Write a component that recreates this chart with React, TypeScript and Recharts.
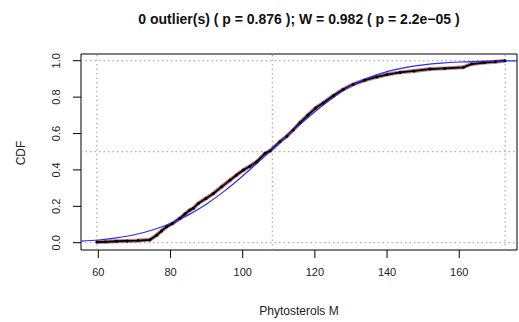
import { LineChart, Line, XAxis, YAxis, ReferenceLine, ReferenceArea } from "recharts"

const ecdfX = [59.6, 62, 65, 68, 71, 74.3, 76.2, 77.5, 78.9, 80.5, 82.6, 84, 85.4, 86.3, 87.7, 89.8, 91.9, 94.2, 96.5, 98.3, 100.2, 102, 103.9, 106.2, 107.6, 110.3, 112.2, 114, 115.9, 118, 120.2, 122.3, 125.1, 127.8, 130.6, 133.8, 137.1, 140, 143.6, 147.5, 151.9, 156, 161.1, 163.4, 167, 170, 172.7]
const ecdfY = [0.004, 0.005, 0.008, 0.01, 0.012, 0.016, 0.042, 0.065, 0.088, 0.105, 0.134, 0.158, 0.18, 0.189, 0.216, 0.243, 0.271, 0.308, 0.344, 0.372, 0.4, 0.42, 0.445, 0.491, 0.505, 0.555, 0.585, 0.62, 0.66, 0.7, 0.74, 0.768, 0.808, 0.842, 0.87, 0.893, 0.911, 0.924, 0.936, 0.944, 0.954, 0.958, 0.964, 0.982, 0.99, 0.995, 1.0]

// fitted normal curve (blue), read at these x values
const fitX = [55, 60, 65, 70, 75, 80, 85, 90, 95, 100, 105, 110, 115, 120, 125, 130, 135, 140, 145, 150, 155, 160, 165, 170, 176]
const fitY = [0.009, 0.015, 0.027, 0.044, 0.07, 0.106, 0.153, 0.213, 0.285, 0.367, 0.455, 0.545, 0.635, 0.72, 0.797, 0.862, 0.907, 0.94, 0.962, 0.977, 0.987, 0.993, 0.996, 0.998, 0.999]

const xTicks = [60, 80, 100, 120, 140, 160]
const yTicks = [0, 0.2, 0.4, 0.6, 0.8, 1]
const hLines = [0, 0.5, 1]
const vLines = [59.6, 108.2, 172.7]

const ecdf = ecdfX.map((x, i) => ({ x, y: ecdfY[i] }))
const fit = fitX.map((x, i) => ({ x, y: fitY[i] }))

const font = "'Liberation Sans', Arial, sans-serif"

const YTick = (props: any) => {
  const { x, y, payload } = props
  const tx = x - 11
  return (
    <text
      x={tx}
      y={y}
      transform={`rotate(-90, ${tx}, ${y})`}
      textAnchor="middle"
      fontSize={11}
      fill="#222"
      fontFamily={font}
    >
      {payload.value.toFixed(1)}
    </text>
  )
}

export default function App() {
  return (
    <div style={{ position: "relative", width: 519, height: 322, fontFamily: font, background: "#fff" }}>
      <style>{`body{margin:0}`}</style>
      <div style={{ position: "absolute", top: 11, left: 0, width: 598, textAlign: "center", fontWeight: "bold", fontSize: 14, color: "#111" }}>
        0 outlier(s) ( p = 0.876 ); W = 0.982 ( p = 2.2e−05 )
      </div>
      <div style={{ position: "absolute", top: 304, left: 0, width: 598, textAlign: "center", fontSize: 12, color: "#222" }}>
        Phytosterols M
      </div>
      <div style={{ position: "absolute", top: 153, left: 21, transform: "translate(-50%, -50%) rotate(-90deg)", fontSize: 12, color: "#222" }}>
        CDF
      </div>
      <LineChart width={519} height={322} margin={{ top: 54, right: 2, bottom: 32, left: 40 }}>
        <XAxis
          type="number"
          dataKey="x"
          domain={[55.2, 176]}
          ticks={xTicks}
          allowDataOverflow
          height={40}
          axisLine={false}
          tickSize={8}
          tickLine={{ stroke: "#000" }}
          tick={{ fontSize: 11, fill: "#222", fontFamily: font, dy: 8 }}
        />
        <YAxis
          type="number"
          dataKey="y"
          domain={[-0.04, 1.037]}
          ticks={yTicks}
          allowDataOverflow
          width={41}
          axisLine={false}
          tickSize={8}
          tickLine={{ stroke: "#000" }}
          tick={<YTick />}
        />
        {hLines.map((v) => (
          <ReferenceLine key={"h" + v} y={v} stroke="#999" strokeDasharray="1.5 3" />
        ))}
        {vLines.map((v) => (
          <ReferenceLine key={"v" + v} x={v} stroke="#999" strokeDasharray="1.5 3" />
        ))}
        <ReferenceArea x1={55.2} x2={176} y1={-0.04} y2={1.037} fill="none" stroke="#000" strokeWidth={1} />
        <Line data={ecdf} dataKey="y" type="linear" stroke="#8b1a1a" strokeOpacity={0.55} strokeWidth={4} dot={false} isAnimationActive={false} />
        <Line data={ecdf} dataKey="y" type="linear" stroke="#000" strokeWidth={1.8} dot={{ r: 1.5, fill: "#000", stroke: "none" }} isAnimationActive={false} />
        <Line data={fit} dataKey="y" type="monotone" stroke="#2a2aff" strokeWidth={1.2} dot={false} isAnimationActive={false} />
      </LineChart>
    </div>
  )
}
